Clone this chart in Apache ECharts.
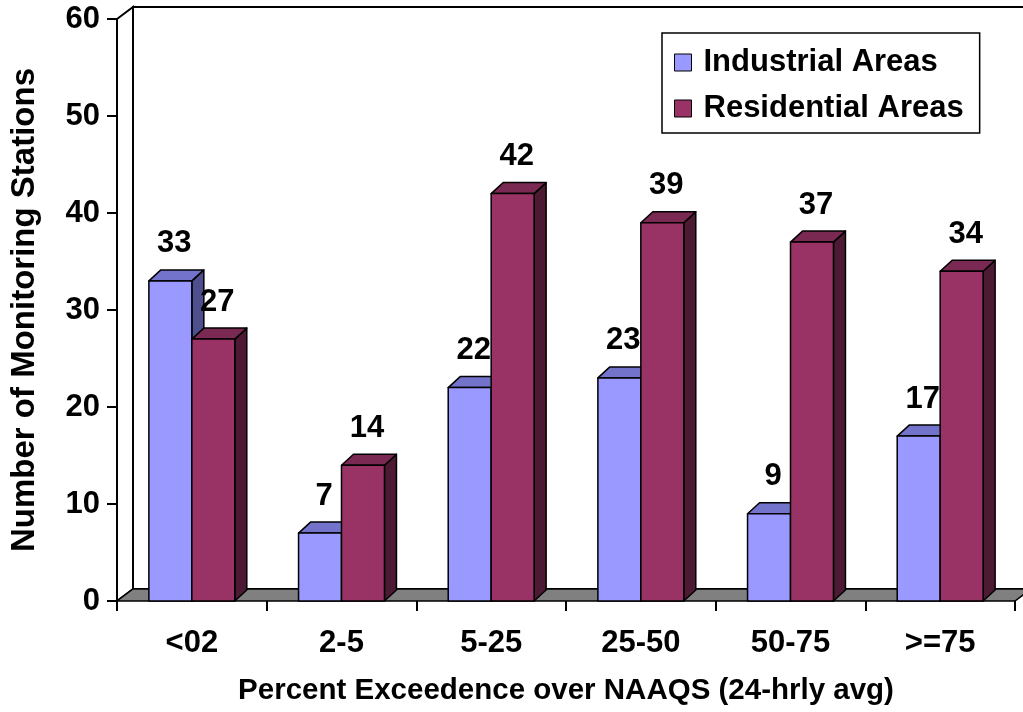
<!DOCTYPE html>
<html>
<head>
<meta charset="utf-8">
<script src="https://cdn.jsdelivr.net/npm/echarts@6/dist/echarts.min.js"></script>
<style>html,body{margin:0;padding:0;background:#fff}#c{width:1023px;height:712px}</style>
</head>
<body>
<div id="c"></div>
<script>
const categories = ['<02', '2-5', '5-25', '25-50', '50-75', '>=75'];
const industrial = [33, 7, 22, 23, 9, 17];
const residential = [27, 14, 42, 39, 37, 34];
const seriesNames = ['Industrial Areas', 'Residential Areas'];
const yTicks = [0, 10, 20, 30, 40, 50, 60];

const FONT = '"Liberation Sans", Arial, sans-serif';
const colors = [
  { front: '#9999FF', top: '#7373CC', side: '#4F4F8F' },
  { front: '#993366', top: '#7A2952', side: '#4D1A33' }
];
const BAR_FRAC = 0.287;
const BD = [12, -11];
const WD = [16, -12];

function barRender(sIdx) {
  return function (params, api) {
    const ci = api.value(0), v = api.value(1);
    const base = api.coord([ci, 0]);
    const top = api.coord([ci, v]);
    const band = api.size([1, 0])[0];
    const w = band * BAR_FRAC;
    const x0 = base[0] - w + sIdx * w, x1 = x0 + w;
    const yb = base[1], yt = top[1];
    const c = colors[sIdx];
    const st = { stroke: '#000', lineWidth: 1.5, lineJoin: 'round' };
    return {
      type: 'group',
      children: [
        { type: 'polygon', shape: { points: [[x1, yb], [x1 + BD[0], yb + BD[1]], [x1 + BD[0], yt + BD[1]], [x1, yt]] },
          style: Object.assign({ fill: c.side }, st) },
        { type: 'polygon', shape: { points: [[x0, yt], [x1, yt], [x1 + BD[0], yt + BD[1]], [x0 + BD[0], yt + BD[1]]] },
          style: Object.assign({ fill: c.top }, st) },
        { type: 'rect', shape: { x: x0, y: yt, width: w, height: yb - yt },
          style: Object.assign({ fill: c.front }, st) },
        { type: 'text', x: (x0 + x1) / 2 + 4, y: yt - 37,
          style: { text: String(v), fill: '#000', font: 'bold 31px ' + FONT, align: 'center', verticalAlign: 'middle' } }
      ]
    };
  };
}

function frameRender(params, api) {
  const cs = params.coordSys;
  const x0 = cs.x, y0 = cs.y, w = cs.width, h = cs.height;
  const yb = y0 + h;
  return {
    type: 'group',
    children: [
      { type: 'rect', shape: { x: x0 + WD[0], y: y0 + WD[1], width: w + 40, height: h },
        style: { fill: '#fff', stroke: '#000', lineWidth: 2 } },
      { type: 'polygon', shape: { points: [[x0, y0], [x0 + WD[0], y0 + WD[1]], [x0 + WD[0], yb + WD[1]], [x0, yb]] },
        style: { fill: '#fff', stroke: '#000', lineWidth: 2 } },
      { type: 'polygon', shape: { points: [[x0, yb], [x0 + w, yb], [x0 + w + WD[0], yb + WD[1]], [x0 + WD[0], yb + WD[1]]] },
        style: { fill: '#808080', stroke: '#000', lineWidth: 1.5 } }
    ]
  };
}

const chart = echarts.init(document.getElementById('c'), null, { renderer: 'canvas' });
chart.setOption({
  animation: false,
  backgroundColor: '#fff',
  textStyle: { fontFamily: FONT },
  grid: { left: 117, right: 8, top: 19, bottom: 111, containLabel: false },
  legend: {
    orient: 'vertical', left: 662, top: 33,
    padding: [14, 16, 9, 12],
    itemGap: 15, itemWidth: 17, itemHeight: 17,
    borderColor: '#000', borderWidth: 1.5,
    backgroundColor: '#fff',
    icon: 'rect',
    itemStyle: { borderColor: '#000', borderWidth: 1 },
    textStyle: { fontSize: 31, fontWeight: 'bold', color: '#000', fontFamily: FONT, padding: [0, 0, 0, 7] },
    data: seriesNames
  },
  xAxis: {
    type: 'category', data: categories,
    axisLine: { show: false },
    axisTick: { show: true, length: 10, lineStyle: { color: '#000', width: 2 } },
    axisLabel: { margin: 27, fontSize: 31, fontWeight: 'bold', color: '#000', fontFamily: FONT },
    name: 'Percent Exceedence over NAAQS (24-hrly avg)',
    nameLocation: 'middle', nameGap: 75,
    nameTextStyle: { fontSize: 29.5, fontWeight: 'bold', color: '#000', fontFamily: FONT }
  },
  yAxis: {
    type: 'value', min: yTicks[0], max: yTicks[yTicks.length - 1], interval: 10,
    axisLine: { show: true, lineStyle: { color: '#000', width: 2 } },
    axisTick: { show: true, length: 10, lineStyle: { color: '#000', width: 2 } },
    splitLine: { show: false },
    axisLabel: { margin: 17, fontSize: 31, fontWeight: 'bold', color: '#000', fontFamily: FONT },
    name: 'Number of Monitoring Stations',
    nameLocation: 'middle', nameGap: 76,
    nameTextStyle: { fontSize: 33, fontWeight: 'bold', color: '#000', fontFamily: FONT }
  },
  series: [
    { type: 'custom', name: 'frame', renderItem: frameRender, data: [[0]], z: 1, silent: true, clip: false,
      encode: { x: 0 } },
    { type: 'custom', name: seriesNames[0], renderItem: barRender(0), z: 3, clip: false,
      itemStyle: { color: colors[0].front },
      data: industrial.map((v, i) => [i, v]), encode: { x: 0, y: 1 } },
    { type: 'custom', name: seriesNames[1], renderItem: barRender(1), z: 3, clip: false,
      itemStyle: { color: colors[1].front },
      data: residential.map((v, i) => [i, v]), encode: { x: 0, y: 1 } }
  ]
});
</script>
</body>
</html>
